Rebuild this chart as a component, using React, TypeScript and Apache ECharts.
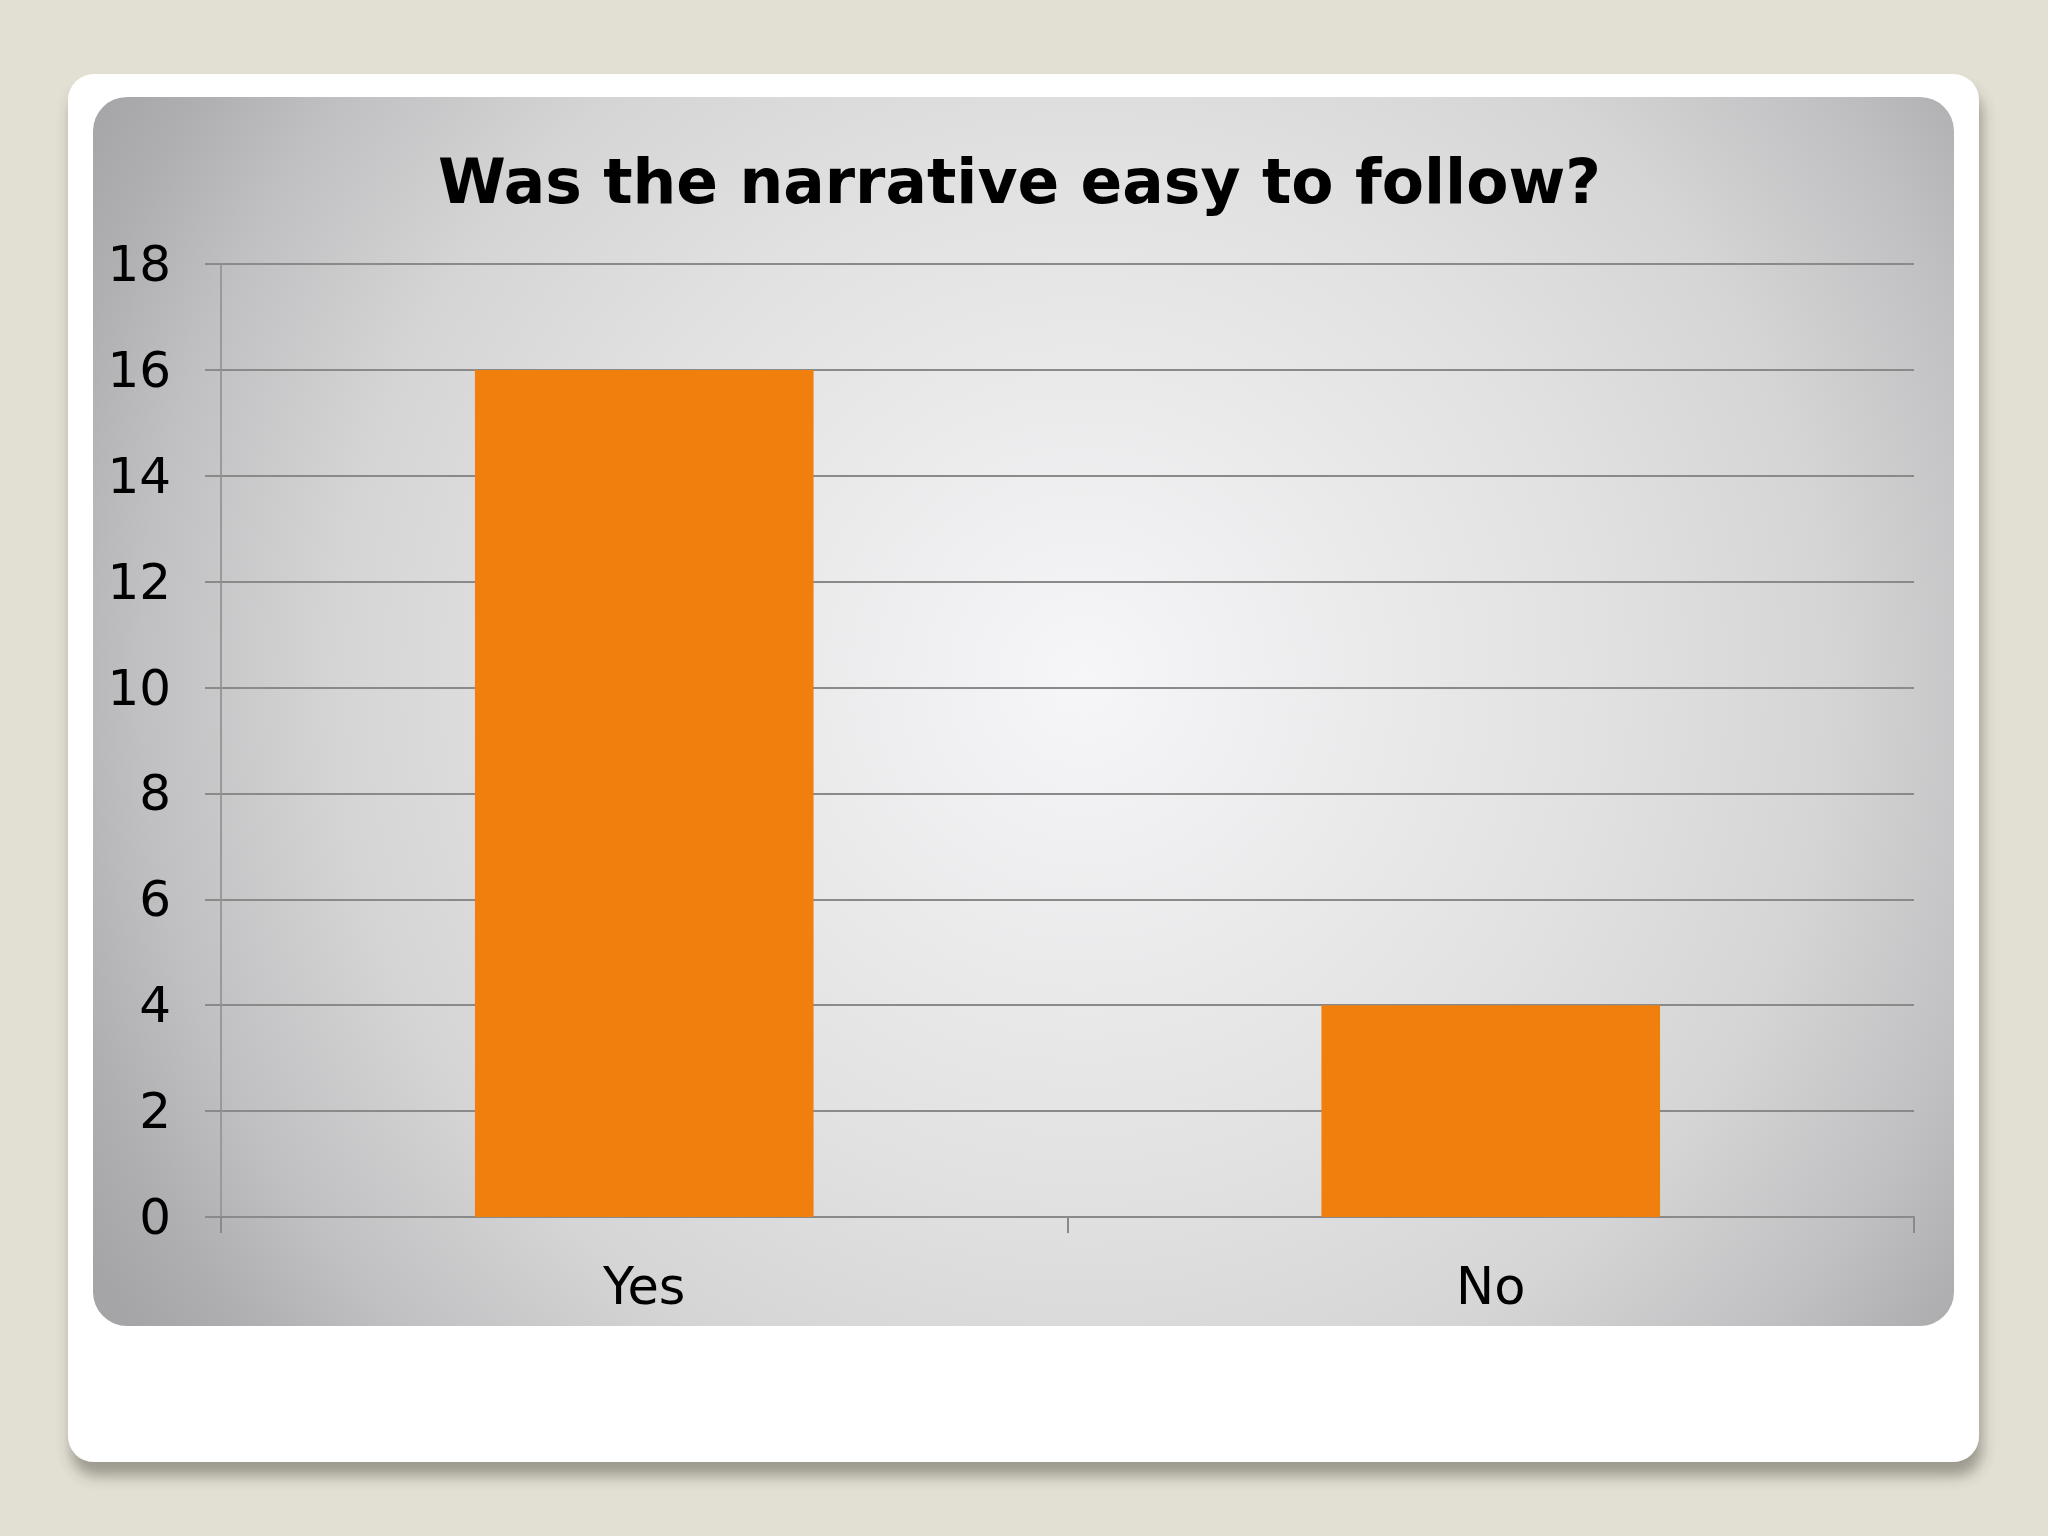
import {useEffect, useRef} from 'react';
import * as echarts from 'echarts';

const title = 'Was the narrative easy to follow?';
const categories = ['Yes', 'No'];
const answers = [16, 4];
const yMin = 0;
const yMax = 18;
const yStep = 2;

export default function App() {
    const chartRef = useRef<HTMLDivElement | null>(null);

    useEffect(() => {
        const el = chartRef.current;
        if (!el) return;
        document.body.style.margin = '0';
        document.body.style.overflow = 'hidden';

        const chart = echarts.init(el, null, {renderer: 'svg'});
        chart.setOption({
            animation: false,
            backgroundColor: '#e2dfd3',
            title: {
                text: title,
                left: 433,
                top: 146,
                textStyle: {fontFamily: 'DejaVu Sans', fontWeight: 'bold', fontSize: 61.5, color: '#000'},
            },
            graphic: [
                // white slide card with its shadow
                {
                    type: 'rect',
                    z: -10,
                    shape: {x: 68, y: 74, width: 1911, height: 1388, r: 26},
                    style: {
                        fill: '#ffffff',
                        shadowBlur: 14,
                        shadowOffsetX: 3,
                        shadowOffsetY: 14,
                        shadowColor: 'rgba(70,68,58,0.45)',
                    },
                },
                // grey chart panel
                {
                    type: 'rect',
                    z: -9,
                    shape: {x: 93, y: 97, width: 1861, height: 1229, r: 34},
                    style: {
                        fill: new echarts.graphic.RadialGradient(1084, 680, 1150, [
                            {offset: 0, color: '#f6f6f8'},
                            {offset: 0.45, color: '#e1e1e2'},
                            {offset: 0.65, color: '#d5d5d6'},
                            {offset: 0.82, color: '#c0c0c2'},
                            {offset: 0.92, color: '#afafb1'},
                            {offset: 1, color: '#a5a5a8'},
                        ], true),
                    },
                },
            ],
            grid: {left: 221, right: 134, top: 264, bottom: 319, containLabel: false},
            xAxis: {
                type: 'category',
                data: categories,
                axisLine: {show: true, lineStyle: {color: '#8a8a8a', width: 2}},
                axisTick: {show: true, length: 16, lineStyle: {color: '#8a8a8a', width: 2}},
                axisLabel: {margin: 44, fontFamily: 'DejaVu Sans', fontSize: 51, color: '#000'},
            },
            yAxis: {
                type: 'value',
                min: yMin,
                max: yMax,
                interval: yStep,
                axisLine: {show: true, lineStyle: {color: '#999999', width: 2}},
                axisTick: {show: true, length: 16, lineStyle: {color: '#8a8a8a', width: 2}},
                axisLabel: {margin: 50, fontFamily: 'DejaVu Sans', fontSize: 50, color: '#000'},
                splitLine: {show: true, lineStyle: {color: '#8a8a8a', width: 2}},
            },
            series: [
                {
                    type: 'bar',
                    data: answers,
                    barWidth: '40%',
                    itemStyle: {color: '#f07f0e'},
                },
            ],
        });

        return () => {
            chart.dispose();
        };
    }, []);

    return (
        <div
            ref={chartRef}
            style={{position: 'absolute', left: 0, top: 0, width: '2048px', height: '1536px'}}
        />
    );
}
